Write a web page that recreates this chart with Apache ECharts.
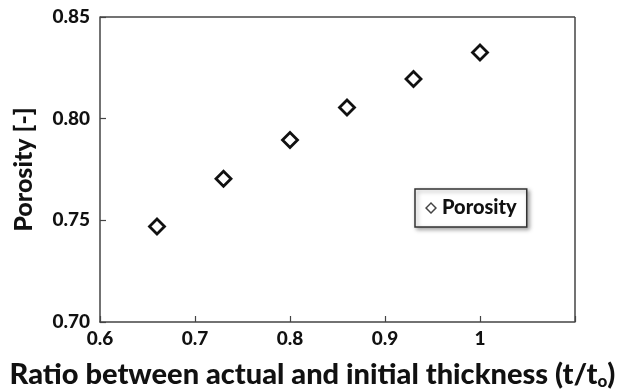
<!DOCTYPE html>
<html>
<head>
<meta charset="utf-8">
<script src="https://cdn.jsdelivr.net/npm/echarts@6/dist/echarts.min.js"></script>
<style>
  html, body { margin: 0; padding: 0; background: #fff; }
  #chart { width: 625px; height: 391px; }
</style>
</head>
<body>
<div id="chart"></div>
<script>
// Thickness ratio (t/t0) and measured porosity
const thicknessRatio = [0.66, 0.73, 0.80, 0.86, 0.93, 1.00];
const porosity = [0.747, 0.7705, 0.7895, 0.8055, 0.8195, 0.8325];
const xTicks = [0.6, 0.7, 0.8, 0.9, 1];
const yTicks = [0.70, 0.75, 0.80, 0.85];

const FONT = 'Lato, "Open Sans", sans-serif';
const WEIGHT = 900;
const points = thicknessRatio.map((x, i) => [x, porosity[i]]);

const chart = echarts.init(document.getElementById('chart'));
chart.setOption({
  animation: false,
  backgroundColor: '#ffffff',
  grid: { left: 100, top: 17, right: 50, bottom: 69, containLabel: false, outerBoundsMode: 'none' },
  legend: {
    data: [{ name: 'Porosity', icon: 'path://M5,0 L10,5 L5,10 L0,5 Z M5,1.7 L1.7,5 L5,8.3 L8.3,5 Z' }],
    left: 415, top: 189,
    itemWidth: 12, itemHeight: 12, itemGap: 4,
    padding: [9, 10, 9, 10],
    backgroundColor: '#fff',
    borderColor: '#333', borderWidth: 1.5,
    shadowColor: 'rgba(0,0,0,0.35)', shadowBlur: 4, shadowOffsetX: 2, shadowOffsetY: 2,
    textStyle: { fontFamily: FONT, fontWeight: WEIGHT, fontSize: 20, color: '#111' },
    itemStyle: { color: '#444', borderWidth: 0 }
  },
  xAxis: {
    type: 'value', min: 0.6, max: 1.1, interval: 0.1,
    name: 'Ratio between actual and initial thickness {p|(t/t}{s|o}{p|)}',
    nameLocation: 'middle', nameGap: 37,
    nameTextStyle: {
      fontFamily: FONT, fontWeight: WEIGHT, fontSize: 29, color: '#111',
      padding: [0, 50, 0, 0],
      rich: {
        p: { fontFamily: FONT, fontWeight: WEIGHT, fontSize: 29, color: '#111' },
        s: { fontFamily: FONT, fontWeight: WEIGHT, fontSize: 17, color: '#111', verticalAlign: 'bottom', padding: [14, 0, 0, 0] }
      }
    },
    axisLine: { onZero: false, lineStyle: { color: '#444', width: 1.5 } },
    axisTick: { inside: true, length: 6, lineStyle: { color: '#444', width: 1.2 } },
    axisLabel: {
      margin: 7, fontFamily: FONT, fontWeight: WEIGHT, fontSize: 19, color: '#111',
      formatter: v => (xTicks.some(t => Math.abs(t - v) < 1e-9) ? String(+v.toFixed(1)) : '')
    },
    splitLine: { show: false }
  },
  yAxis: {
    type: 'value', min: 0.70, max: 0.85, interval: 0.05,
    name: 'Porosity [-]', nameLocation: 'middle', nameGap: 64,
    nameTextStyle: { fontFamily: FONT, fontWeight: WEIGHT, fontSize: 25, color: '#111' },
    axisLine: { onZero: false, lineStyle: { color: '#444', width: 1.5 } },
    axisTick: { inside: true, length: 6, lineStyle: { color: '#444', width: 1.2 } },
    axisLabel: {
      margin: 10, fontFamily: FONT, fontWeight: WEIGHT, fontSize: 19, color: '#111',
      formatter: v => (yTicks.some(t => Math.abs(t - v) < 1e-9) ? v.toFixed(2) : '')
    },
    splitLine: { show: false }
  },
  series: [
    {
      name: 'Porosity',
      type: 'scatter',
      data: points,
      symbol: 'diamond',
      symbolSize: [15, 15],
      itemStyle: { color: '#fff', borderColor: '#111', borderWidth: 2.8, opacity: 1 }
    },
    {
      // frame on the top and right sides of the plot area
      type: 'line', silent: true, data: [],
      markLine: {
        silent: true, symbol: 'none', label: { show: false },
        lineStyle: { color: '#444', width: 1.5, type: 'solid' },
        data: [
          [{ coord: [0.6, 0.85] }, { coord: [1.1, 0.85] }],
          [{ coord: [1.1, 0.85] }, { coord: [1.1, 0.70] }]
        ]
      }
    }
  ]
});
</script>
</body>
</html>
